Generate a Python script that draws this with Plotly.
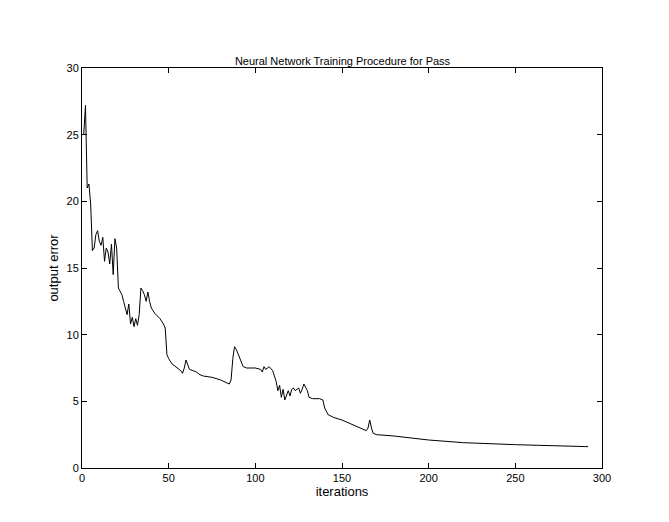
import plotly.graph_objects as go

iterations = [1, 2, 3, 4, 5, 6, 7, 8, 9, 10, 11, 12, 13, 14, 15, 16, 17, 18, 19, 20,
              21, 22, 23, 24, 25, 26, 27, 28, 29, 30, 31, 32, 33, 34, 35, 36, 37, 38, 39, 40,
              42, 45, 47, 48, 49, 50, 52, 55, 57, 58, 59, 60, 61, 62, 64, 66, 68, 70, 75, 80,
              85, 86, 87, 88, 89, 90, 91, 93, 95, 100, 103, 104, 105, 106, 107, 108, 110, 112, 113, 114,
              115, 116, 117, 118, 119, 120, 121, 122, 123, 125, 126, 127, 128, 130, 131, 133, 137, 139, 140, 142,
              145, 150, 155, 160, 164, 165, 166, 167, 168, 170, 180, 200, 220, 250, 270, 292]
error = [25, 27.2, 21, 21.3, 19.8, 16.3, 16.5, 17.5, 17.8, 17, 16.7, 17.3, 15.5, 16.5, 16.2, 15.3, 16.8, 14.5, 17.2, 16.5,
         13.5, 13.2, 13, 12.5, 12, 11.5, 12.3, 10.8, 11.3, 10.6, 11.2, 10.7, 11.5, 13.5, 13.3, 13, 12.5, 13.2, 12.5, 12.0,
         11.6, 11.2, 10.8, 10.5, 8.5, 8.2, 7.8, 7.5, 7.3, 7.1, 7.5, 8.1, 7.8, 7.4, 7.3, 7.2, 7.0, 6.9, 6.8, 6.6,
         6.3, 6.6, 8.2, 9.1, 8.9, 8.6, 8.3, 7.6, 7.5, 7.5, 7.4, 7.2, 7.6, 7.4, 7.5, 7.6, 7.3, 6.5, 5.8, 6.2,
         5.3, 5.9, 5.1, 5.5, 5.8, 5.4, 5.9, 6.0, 5.8, 6.0, 5.6, 5.9, 6.3, 5.8, 5.3, 5.2, 5.2, 5.1, 4.5, 4.0,
         3.8, 3.6, 3.3, 3.0, 2.8, 3.0, 3.6, 3.0, 2.6, 2.5, 2.4, 2.1, 1.9, 1.75, 1.68, 1.6]

fig = go.Figure(go.Scatter(x=iterations, y=error, mode="lines",
                           line=dict(color="black", width=1)))

axis_style = dict(showgrid=False, zeroline=False, showline=True, mirror="ticks",
                  linecolor="black", linewidth=1, ticks="inside", ticklen=5,
                  tickcolor="black", tickfont=dict(size=11, color="black"))
fig.update_xaxes(range=[0, 300], dtick=50, title=dict(text="iterations", standoff=2), **axis_style)
fig.update_yaxes(range=[0, 30], dtick=5, title=dict(text="output error", standoff=4), **axis_style)

fig.update_layout(
    width=669, height=522,
    margin=dict(l=74, r=75, t=60, b=62),
    plot_bgcolor="white", paper_bgcolor="white",
    font=dict(family="Liberation Sans", size=11, color="black"),
    title=dict(text="Neural Network Training Procedure for Pass", x=0.5, xanchor="center",
               y=0.89, yanchor="bottom", font=dict(size=11)),
    showlegend=False,
)
fig.write_html("out.html")
